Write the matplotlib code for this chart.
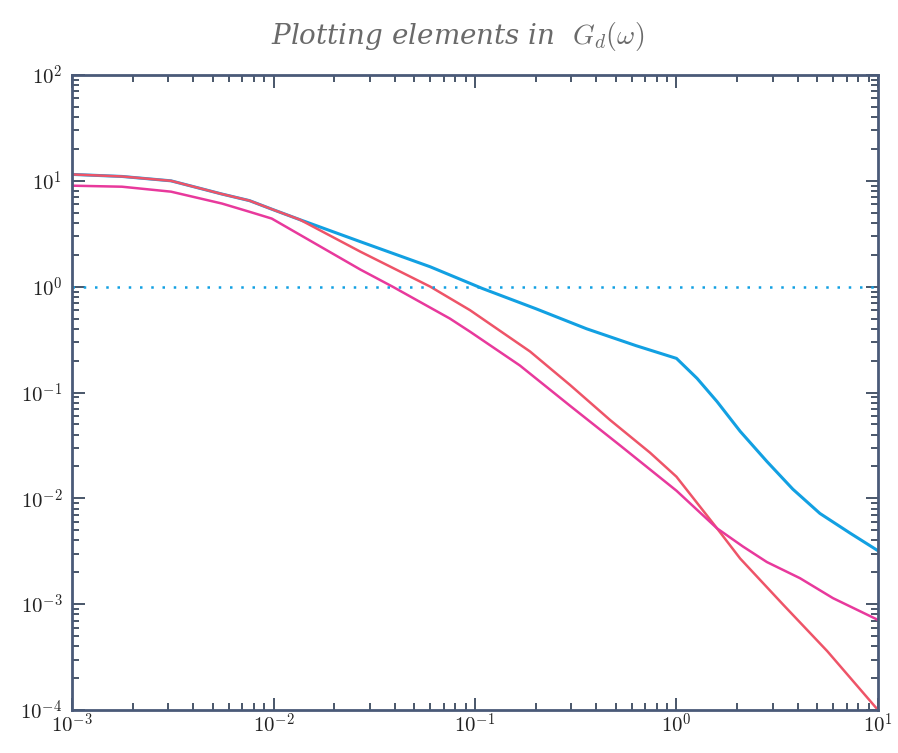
import numpy as np
import matplotlib
matplotlib.use('Agg')
import matplotlib.pyplot as plt
from matplotlib.ticker import FuncFormatter

plt.rcParams['mathtext.fontset'] = 'cm'

# frequency / magnitude
blue_w = [1e-3, 1.77e-3, 3.1e-3, 5.55e-3, 7.6e-3, 9.8e-3, 0.0135, 0.027, 0.06, 0.109, 0.2,
          0.358, 0.63, 1.0, 1.265, 1.59, 2.07, 2.81, 3.78, 5.15, 7.26, 10]
blue_g = [11.5, 11.0, 10.0, 7.5, 6.5, 5.4, 4.3, 2.66, 1.54, 0.96, 0.62,
          0.40, 0.277, 0.21, 0.136, 0.082, 0.043, 0.0223, 0.0122, 7.2e-3, 4.7e-3, 3.2e-3]

red_w = [1e-3, 1.77e-3, 3.1e-3, 5.55e-3, 7.6e-3, 9.8e-3, 0.0135, 0.027, 0.06, 0.0944,
         0.1876, 0.296, 0.468, 0.739, 1.0, 1.59, 2.07, 3.4, 5.6, 10]
red_g = [11.5, 11.0, 10.0, 7.5, 6.5, 5.4, 4.3, 2.14, 1.0, 0.60,
         0.244, 0.118, 0.055, 0.027, 0.0160, 5.2e-3, 2.7e-3, 9.8e-4, 3.6e-4, 1e-4]

mag_w = [1e-3, 1.77e-3, 3.1e-3, 5.55e-3, 7.6e-3, 9.8e-3, 0.027, 0.039, 0.075, 0.0944,
         0.167, 0.296, 0.525, 1.0, 1.59, 2.14, 2.81, 4.1, 5.98, 10]
mag_g = [9.0, 8.8, 7.9, 6.1, 5.1, 4.4, 1.45, 1.0, 0.50, 0.376,
         0.18, 0.075, 0.0316, 0.0118, 5.2e-3, 3.5e-3, 2.5e-3, 1.76e-3, 1.14e-3, 7.1e-4]

c_blue = '#12a0e2'
c_red = '#ee5468'
c_mag = '#e8399c'

fig = plt.figure(figsize=(8.98, 7.53), dpi=100)
ax = fig.add_axes([0.0802, 0.0571, 0.8975, 0.8433])

ax.loglog(blue_w, blue_g, color=c_blue, lw=2.2)
ax.loglog(red_w, red_g, color=c_red, lw=1.8)
ax.loglog(mag_w, mag_g, color=c_mag, lw=1.8)
ax.axhline(1.0, color=c_blue, lw=1.8, ls=(0, (1, 3.5)))

ax.set_xlim(1e-3, 1e1)
ax.set_ylim(1e-4, 1e2)

fmt = FuncFormatter(lambda v, pos: r'$10^{%d}$' % round(np.log10(v)))
ax.xaxis.set_major_formatter(fmt)
ax.yaxis.set_major_formatter(fmt)

frame = '#4a5a78'
for s in ax.spines.values():
    s.set_color(frame)
    s.set_linewidth(2)
ax.tick_params(which='both', direction='in', top=True, right=True,
               colors='#2a3a50', labelcolor='#222222', labelsize=15)
ax.tick_params(which='major', length=9, width=1.2)
ax.tick_params(which='minor', length=5, width=1.2)
ax.tick_params(axis='x', pad=2)
ax.tick_params(axis='y', pad=7)

fig.text(0.51, 0.952, r'Plotting elements in  $G_d(\omega)$', ha='center', va='center',
         fontsize=20, color='#6a6a6a', style='italic', family='DejaVu Serif')

fig.savefig('out.png', dpi=100)
